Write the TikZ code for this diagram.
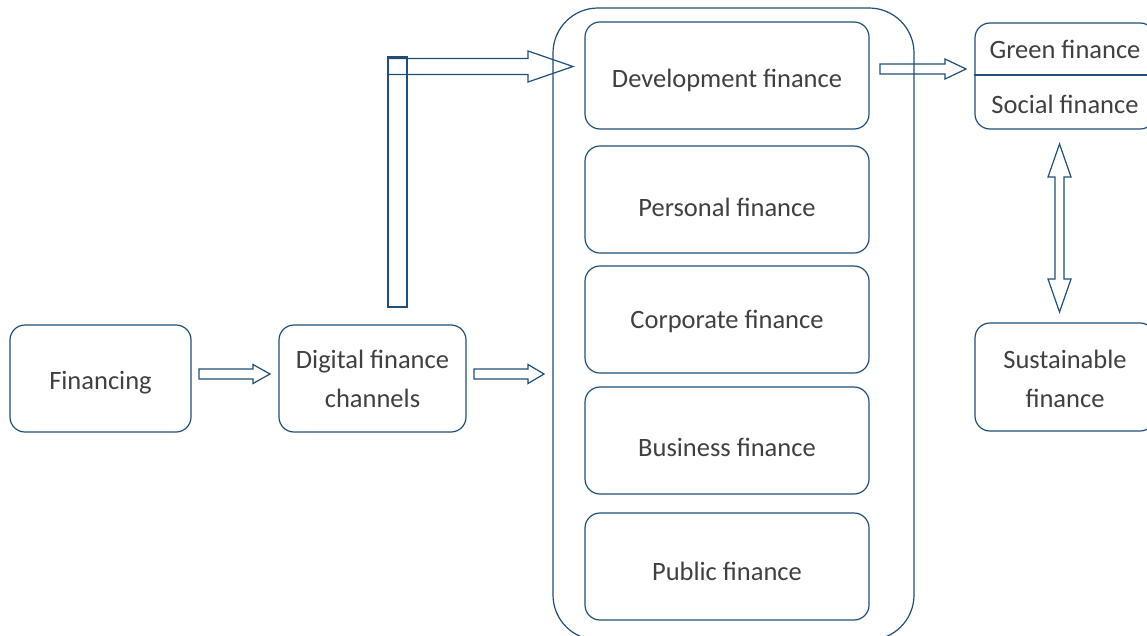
\documentclass[tikz,border=0pt]{standalone}
\usepackage{fontspec}
\setmainfont{Carlito}
\usetikzlibrary{calc}
\definecolor{navy}{HTML}{1F4E79}
\definecolor{txt}{HTML}{404040}
\tikzset{
  box/.style={draw=navy, line width=1.2pt, rounded corners=15pt, inner sep=0pt, align=center, text=txt, font=\fontsize{26.5}{39}\selectfont},
  lbl/.style={text=txt, font=\fontsize{26.5}{39}\selectfont},
  arr/.style={draw=navy, line width=1.2pt, line join=miter},
}
% horizontal block arrow: start, end, shaft half, head half, head length
\newcommand\harrow[5]{\draw[arr] let \p1=(#1), \p2=(#2) in
  (\x1,\y1+#3) -- (\x2-#5,\y1+#3) -- (\x2-#5,\y1+#4) -- (\x2,\y1) -- (\x2-#5,\y1-#4) -- (\x2-#5,\y1-#3) -- (\x1,\y1-#3) -- cycle;}
\begin{document}
\begin{tikzpicture}[x=1pt,y=-1pt]
\clip (0,0) rectangle (1147,635);
\useasboundingbox (0,0) rectangle (1147,635);
% container
\node[draw=navy, line width=1.2pt, rounded corners=45pt, minimum width=361pt, minimum height=632pt] (cont) at (733.5,324) {};
% left boxes
\node[box, minimum width=181pt, minimum height=107pt] (fin) at (100.5,378.5) {};
\node[lbl] (fint) at (100.5,383) {Financing};
\node[box, minimum width=187pt, minimum height=107pt] (dig) at (372.5,378.5) {};
\node[lbl, align=center] (digt) at (372.5,379) {Digital finance\\channels};
% inner boxes
\foreach \n/\y/\ty/\t in {dev/75.5/80.5/Development finance, pers/199.5/207.5/Personal finance, corp/319.5/321.5/Corporate finance, bus/440.5/447.5/Business finance, pub/566.5/571.5/Public finance}{
  \node[box, minimum width=284pt, minimum height=107pt] (\n) at (727,\y) {};
  \node[lbl] (\n t) at (727,\ty) {\t};
}
% right boxes
\node[box, minimum width=180pt, minimum height=106pt] (gs) at (1065,76) {};
\draw[navy, line width=1.2pt] (gs.west |- 0,75) -- (gs.east |- 0,75);
\node[lbl] (green) at (1065,49.5) {Green finance};
\node[lbl] (social) at (1065,104.5) {Social finance};
\node[box, minimum width=180pt, minimum height=108pt] (sus) at (1065,377) {};
\node[lbl, align=center] (sust) at (1065,378.5) {Sustainable\\finance};
% vertical bar
\node[draw=navy, line width=1.2pt, minimum width=19pt, minimum height=250pt, inner sep=0pt] (bar) at (397.5,182) {};
% arrows
\coordinate (a1s) at (199,374); \coordinate (a1e) at (270,374);
\coordinate (a2s) at (474,374); \coordinate (a2e) at (544,374);
\coordinate (a3s) at (388,66.5); \coordinate (a3e) at (573,66.5);
\coordinate (a4s) at (880,69); \coordinate (a4e) at (966,69);
\harrow{a1s}{a1e}{5pt}{9.5pt}{17pt}
\harrow{a2s}{a2e}{5pt}{9.5pt}{16pt}
\harrow{a3s}{a3e}{8pt}{15.5pt}{45pt}
\harrow{a4s}{a4e}{5pt}{10pt}{21pt}
% double vertical arrow
\coordinate (dt) at (1059.5,144); \coordinate (db) at (1059.5,312);
\draw[arr] let \p1=(dt), \p2=(db) in
  (\x1,\y1) -- (\x1+11.5pt,\y1-33pt) -- (\x1+4.5pt,\y1-33pt) -- (\x1+4.5pt,\y2+33pt) -- (\x1+11.5pt,\y2+33pt) -- (\x2,\y2)
  -- (\x1-11.5pt,\y2+33pt) -- (\x1-4.5pt,\y2+33pt) -- (\x1-4.5pt,\y1-33pt) -- (\x1-11.5pt,\y1-33pt) -- cycle;
\end{tikzpicture}
\end{document}
